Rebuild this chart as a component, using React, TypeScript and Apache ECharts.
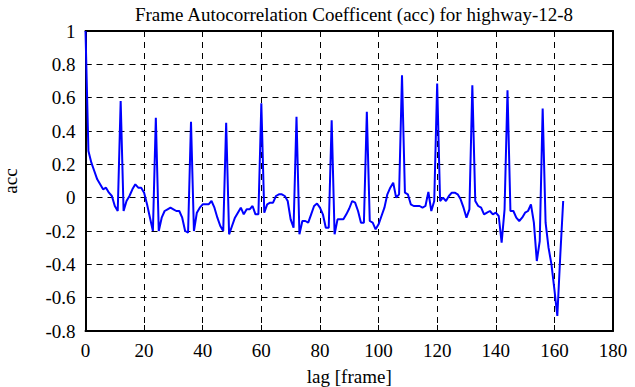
import React, { useEffect, useRef } from "react";
import * as echarts from "echarts";

const titleText = "Frame Autocorrelation Coefficent (acc) for highway-12-8";
const xName = "lag [frame]";
const yName = "acc";

// acc values for lag 0, 1, 2, ... 163
const accValues: number[] = [
  1.0, 0.28, 0.21, 0.16, 0.11, 0.08, 0.05, 0.06, 0.03, 0.01,
  -0.05, -0.08, 0.58, -0.08, -0.02, 0.01, 0.05, 0.08, 0.06, 0.06,
  0.03, -0.04, -0.12, -0.2, 0.48, -0.2, -0.12, -0.08, -0.07, -0.06,
  -0.07, -0.08, -0.08, -0.12, -0.2, -0.21, 0.455, -0.2, -0.09, -0.06,
  -0.04, -0.04, -0.04, -0.02, -0.06, -0.12, -0.17, -0.2, 0.45, -0.22,
  -0.17, -0.12, -0.09, -0.06, -0.1, -0.07, -0.07, -0.05, -0.1, -0.1,
  0.567, -0.09, -0.04, -0.03, -0.03, 0.01, 0.02, 0.02, 0.01, -0.02,
  -0.13, -0.18, 0.485, -0.22, -0.14, -0.14, -0.15, -0.1, -0.05, -0.035,
  -0.06, -0.1, -0.18, -0.18, 0.465, -0.22, -0.13, -0.13, -0.13, -0.1,
  -0.065, -0.02, -0.03, -0.08, -0.15, -0.15, 0.515, -0.14, -0.15, -0.19,
  -0.16, -0.11, -0.06, 0.02, 0.06, 0.09, 0.0, 0.02, 0.735, 0.03,
  0.02, -0.04, -0.05, -0.05, -0.05, -0.06, -0.05, 0.035, -0.08, -0.02,
  0.685, -0.02, 0.0, -0.02, 0.01, 0.03, 0.03, 0.02, -0.01, -0.06,
  -0.12, -0.07, 0.675, -0.02, -0.05, -0.06, -0.1, -0.09, -0.08, -0.1,
  -0.09, -0.11, -0.27, -0.07, 0.645, -0.08, -0.08, -0.12, -0.14, -0.12,
  -0.09, -0.08, -0.04, -0.15, -0.38, -0.26, 0.535, -0.15, -0.3, -0.4,
  -0.55, -0.71, -0.35, -0.02,
];

const xTickValues = [0, 20, 40, 60, 80, 100, 120, 140, 160, 180];
const yTickValues = [1, 0.8, 0.6, 0.4, 0.2, 0, -0.2, -0.4, -0.6, -0.8];
const yTickLabels = ["1", "0.8", "0.6", "0.4", "0.2", "0", "-0.2", "-0.4", "-0.6", "-0.8"];

const xTicks = { min: 0, max: 180, interval: 20 };
const yTicks = { min: -0.8, max: 1, interval: 0.2 };

const FONT = "Liberation Serif";
const FS = 19;

export default function App() {
  const ref = useRef<HTMLDivElement>(null);
  useEffect(() => {
    if (!ref.current) return;
    const chart = echarts.init(ref.current, undefined, { renderer: "svg" });
    const data = accValues.map((v, i) => [i, v]);
    const labelStyle = { fontFamily: FONT, fontSize: FS, color: "#000" };
    const axisLine = { show: true, onZero: false, lineStyle: { color: "#000", width: 2 } };
    const axisTick = { show: true, inside: true, length: 6, lineStyle: { color: "#000", width: 1 } };
    const splitLine = { show: true, lineStyle: { color: "#000", width: 1, type: [6, 5] } };
    chart.setOption({
      animation: false,
      backgroundColor: "#fff",
      textStyle: { fontFamily: FONT },
      title: {
        text: titleText,
        left: 349,
        textAlign: "center",
        top: 0,
        textStyle: { ...labelStyle, fontWeight: "normal" },
      },
      grid: {
        left: 85.5,
        right: 22,
        top: 31,
        bottom: 56,
        containLabel: false,
        outerBoundsMode: "none",
      },
      xAxis: [
        {
          type: "value",
          position: "bottom",
          ...xTicks,
          name: xName,
          nameLocation: "middle",
          nameGap: 36,
          nameTextStyle: labelStyle,
          axisLine,
          axisTick,
          splitLine,
          axisLabel: { show: false },
        },
        {
          type: "value",
          position: "top",
          ...xTicks,
          axisLine,
          axisTick,
          splitLine: { show: false },
          axisLabel: { show: false },
        },
      ],
      yAxis: [
        {
          type: "value",
          position: "left",
          ...yTicks,
          name: yName,
          nameLocation: "middle",
          nameGap: 66,
          nameTextStyle: labelStyle,
          axisLine,
          axisTick,
          splitLine,
          axisLabel: { show: false },
        },
        {
          type: "value",
          position: "right",
          ...yTicks,
          axisLine,
          axisTick,
          splitLine: { show: false },
          axisLabel: { show: false },
        },
      ],
      series: [
        {
          type: "line",
          data,
          xAxisIndex: 0,
          yAxisIndex: 0,
          showSymbol: false,
          symbol: "none",
          lineStyle: { color: "#0000ff", width: 2 },
          z: 5,
        },
      ],
    });

    // tick labels placed through the axes' own scales
    const x0 = chart.convertToPixel({ xAxisIndex: 0 }, 0) as number;
    const yBottom = chart.convertToPixel({ yAxisIndex: 0 }, yTicks.min) as number;
    const graphics: any[] = [];
    xTickValues.forEach((v) => {
      const px = chart.convertToPixel({ xAxisIndex: 0 }, v) as number;
      graphics.push({
        type: "text",
        x: px,
        y: yBottom + 10,
        style: {
          text: String(v),
          fontFamily: FONT,
          fontSize: FS,
          fill: "#000",
          textAlign: "center",
          textVerticalAlign: "top",
        },
      });
    });
    yTickValues.forEach((v, i) => {
      const py = chart.convertToPixel({ yAxisIndex: 0 }, v) as number;
      graphics.push({
        type: "text",
        x: x0 - 10,
        y: py,
        style: {
          text: yTickLabels[i],
          fontFamily: FONT,
          fontSize: FS,
          fill: "#000",
          textAlign: "right",
          textVerticalAlign: "middle",
        },
      });
    });
    chart.setOption({ graphic: graphics });
    return () => chart.dispose();
  }, []);
  return (
    <div
      ref={ref}
      style={{ position: "fixed", left: 0, top: 0, width: 635, height: 387, background: "#fff" }}
    />
  );
}
